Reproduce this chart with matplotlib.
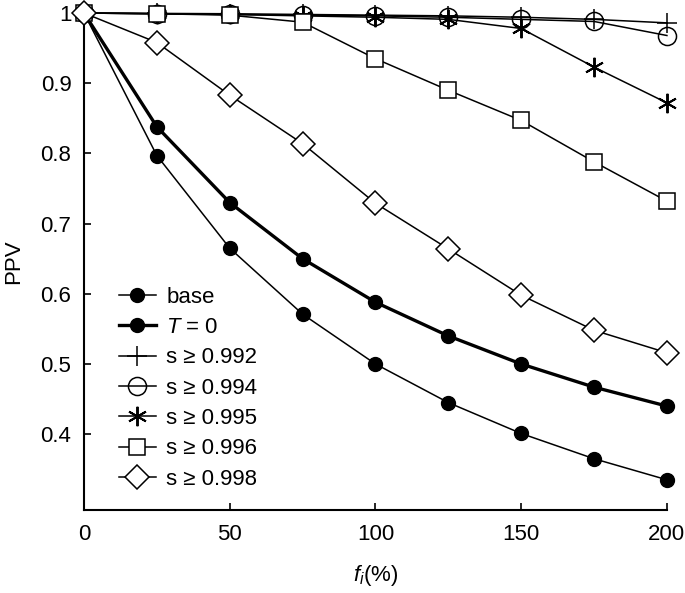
import matplotlib
matplotlib.use('Agg')
import matplotlib.pyplot as plt

plt.rcParams['font.family'] = ['Liberation Sans', 'DejaVu Sans']
plt.rcParams['mathtext.fontset'] = 'custom'
plt.rcParams['mathtext.rm'] = 'Liberation Sans'
plt.rcParams['mathtext.it'] = 'Liberation Sans:italic'

# data
fi = [0, 25, 50, 75, 100, 125, 150, 175, 200]
base = [1.0, 0.797, 0.665, 0.571, 0.500, 0.445, 0.401, 0.365, 0.335]
t_zero = [1.0, 0.838, 0.730, 0.650, 0.588, 0.540, 0.500, 0.467, 0.440]
s992 = [1.0, 0.9995, 0.999, 0.998, 0.997, 0.996, 0.994, 0.991, 0.986]
s994 = [1.0, 0.999, 0.998, 0.997, 0.996, 0.994, 0.991, 0.988, 0.968]
s995 = [1.0, 0.999, 0.998, 0.996, 0.994, 0.991, 0.978, 0.923, 0.872]
s996 = [1.0, 0.999, 0.997, 0.987, 0.935, 0.890, 0.847, 0.788, 0.732]
s998 = [1.0, 0.958, 0.883, 0.814, 0.729, 0.664, 0.598, 0.548, 0.516]

fig = plt.figure(figsize=(6.85, 5.93), dpi=100)
ax = fig.add_axes([0.1226, 0.14, 0.851, 0.838])

ax.plot(fi, base, 'k-', lw=1.1, marker='o', ms=10, mfc='k', mec='k', label='base', clip_on=False, zorder=3)
ax.plot(fi, t_zero, 'k-', lw=2.4, marker='o', ms=10, mfc='k', mec='k', label='$T$ = 0', clip_on=False, zorder=3)
ax.plot(fi, s992, 'k-', lw=1.1, marker='+', ms=14, mew=1.1, label='s \u2265 0.992', clip_on=False, zorder=3)
ax.plot(fi, s994, 'k-', lw=1.1, marker='o', ms=13, mfc='none', mec='k', mew=1.1, label='s \u2265 0.994', clip_on=False, zorder=3)
ax.plot(fi, s995, 'k-', lw=1.1, marker=(6, 2, 0), ms=14, mew=1.4, mec='k', label='s \u2265 0.995', clip_on=False, zorder=3)
ax.plot(fi, s996, 'k-', lw=1.1, marker='s', ms=11.5, mfc='white', mec='k', mew=1.1, label='s \u2265 0.996', clip_on=False, zorder=3)
ax.plot(fi, s998, 'k-', lw=1.1, marker='D', ms=12.5, mfc='white', mec='k', mew=1.1, label='s \u2265 0.998', clip_on=False, zorder=3)

ax.set_xlim(0, 200)
ax.set_ylim(0.292, 1.0)
ax.set_xticks([0, 50, 100, 150, 200])
ax.set_yticks([0.4, 0.5, 0.6, 0.7, 0.8, 0.9, 1.0])
ax.set_yticklabels(['0.4', '0.5', '0.6', '0.7', '0.8', '0.9', '1'])
ax.spines['top'].set_visible(False)
ax.spines['right'].set_visible(False)
ax.spines['left'].set_linewidth(1.5)
ax.spines['bottom'].set_linewidth(1.5)
ax.tick_params(direction='in', length=5, width=1.2, labelsize=16)
ax.tick_params(axis='x', pad=10)
ax.tick_params(axis='y', pad=9)

ax.set_xlabel('$f_i$(%)', fontsize=16, labelpad=13)
ax.set_ylabel('PPV', fontsize=16, labelpad=12)

ax.legend(loc='upper left', bbox_to_anchor=(0.044, 0.467), frameon=False, fontsize=16,
          handlelength=1.7, labelspacing=0.42, handletextpad=0.45, borderaxespad=0)

fig.savefig('out.png', dpi=100)
